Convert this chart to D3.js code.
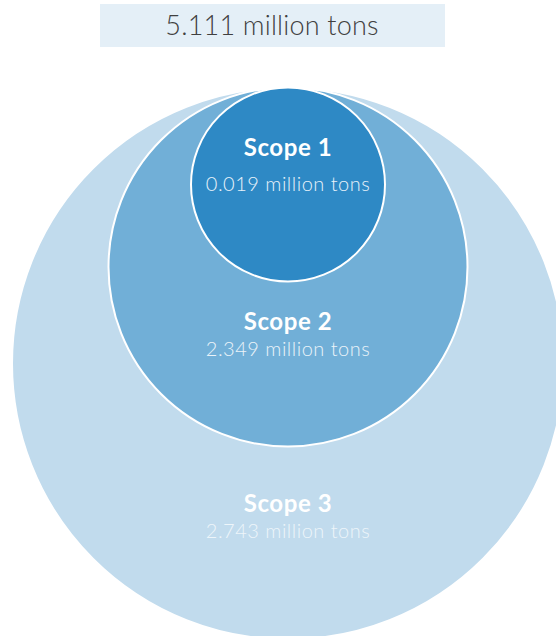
<!DOCTYPE html>
<html>
<head>
<meta charset="utf-8">
<script src="https://cdn.jsdelivr.net/npm/d3@7"></script>
<style>
  body { margin: 0; background: #fff; }
  svg text { font-family: Lato, "Open Sans", sans-serif; }
</style>
</head>
<body>
<div class="chart"></div>
<script>
var totalLabel = '5.111 million tons';
var scopes = ['Scope 3', 'Scope 2', 'Scope 1'];
var scopeValues = [2.743, 2.349, 0.019];

var width = 556;
var height = 636;

// the circles are nested, not area-proportional
var radius = d3.scaleOrdinal()
  .domain(scopes)
  .range([276, 179.5, 97]);

var fill = d3.scaleOrdinal()
  .domain(scopes)
  .range(['#c1dbed', '#71afd7', '#2e89c5']);

var labelY = d3.scaleOrdinal()
  .domain(scopes)
  .range([512, 330, 156]);

var valueColor = d3.scaleOrdinal()
  .domain(scopes)
  .range(['#edf5fa', '#eaf3f9', '#e8f2fa']);

var cx = 288;
var topY = 87.5;

var svg = d3.select('.chart').append('svg')
    .attr('width', width)
    .attr('height', height);

svg.append('rect')
    .attr('x', 100)
    .attr('y', 4)
    .attr('width', 345)
    .attr('height', 43)
    .attr('fill', '#e4eff7');

svg.append('text')
    .attr('x', 272)
    .attr('y', 35)
    .attr('text-anchor', 'middle')
    .attr('font-size', 27)
    .attr('font-weight', 300)
    .attr('letter-spacing', 0.2)
    .attr('fill', '#404040')
    .text(totalLabel);

var data = scopes.map(function(s, i) { return { scope: s, value: scopeValues[i] }; });

svg.selectAll('circle')
    .data(data)
  .enter().append('circle')
    .attr('cx', cx)
    .attr('cy', function(d) { return topY + radius(d.scope); })
    .attr('r', function(d) { return radius(d.scope); })
    .attr('fill', function(d) { return fill(d.scope); })
    .attr('stroke', '#fff')
    .attr('stroke-width', 2);

var labels = svg.selectAll('g.label')
    .data(data)
  .enter().append('g')
    .attr('class', 'label')
    .attr('transform', function(d) { return 'translate(' + cx + ',' + labelY(d.scope) + ')'; });

labels.append('text')
    .attr('text-anchor', 'middle')
    .attr('font-size', 24)
    .attr('font-weight', 'bold')
    .attr('letter-spacing', 0.6)
    .attr('fill', '#fff')
    .text(function(d) { return d.scope; });

labels.append('text')
    .attr('y', function(d) { return d.scope === 'Scope 1' ? 35 : 26; })
    .attr('text-anchor', 'middle')
    .attr('font-size', 20)
    .attr('font-weight', 300)
    .attr('letter-spacing', 0.5)
    .attr('fill', function(d) { return valueColor(d.scope); })
    .text(function(d) { return d3.format('.3f')(d.value) + ' million tons'; });
</script>
</body>
</html>
